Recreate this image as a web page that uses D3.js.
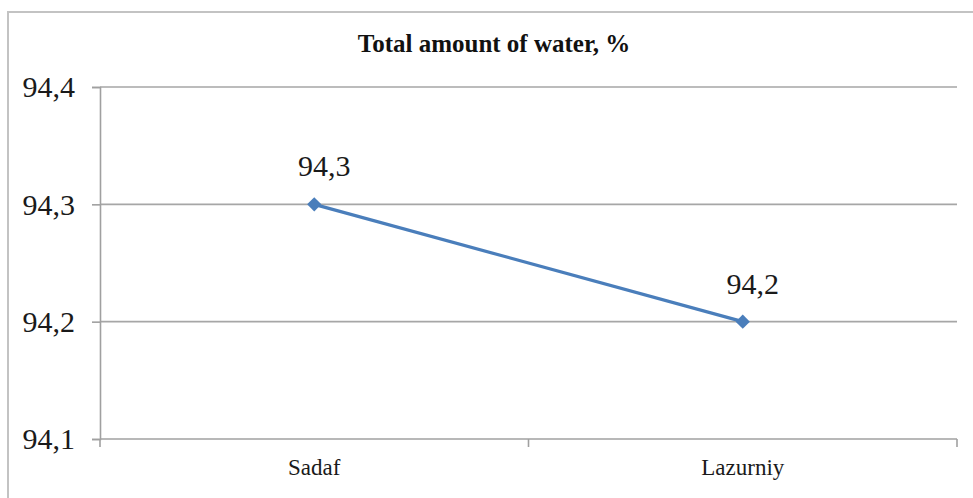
<!DOCTYPE html>
<html>
<head>
<meta charset="utf-8">
<script src="https://cdnjs.cloudflare.com/ajax/libs/d3/7.8.5/d3.min.js"></script>
<style>
  html, body { margin: 0; padding: 0; background: #fff; }
  svg { display: block; }
</style>
</head>
<body>
<svg id="chart" width="973" height="498"></svg>
<script>
const title = "Total amount of water, %";
const categories = ["Sadaf", "Lazurniy"];
const values = [94.3, 94.2];
const yTicks = [94.1, 94.2, 94.3, 94.4];
const yDomain = [94.1, 94.4];

const fmt = v => d3.format(".1f")(v).replace(".", ",");
const svg = d3.select("#chart");
const W = 973, H = 498;
const m = { left: 100, right: 16, top: 87, bottom: 59 };
const serif = "'Liberation Serif', 'Times New Roman', serif";

// outer frame
svg.append("rect").attr("x", 8).attr("y", 12).attr("width", 990).attr("height", 520)
  .attr("fill", "#fff").attr("stroke", "#c3c3c3").attr("stroke-width", 2);

const x = d3.scaleBand().domain(categories).range([m.left, W - m.right]).paddingInner(0).paddingOuter(0);
const y = d3.scaleLinear().domain(yDomain).range([H - m.bottom, m.top]);

// gridlines
svg.append("g").selectAll("line").data(yTicks.slice(1)).join("line")
  .attr("x1", m.left).attr("x2", W - m.right)
  .attr("y1", d => y(d)).attr("y2", d => y(d))
  .attr("stroke", "#a6a6a6").attr("stroke-width", 1.6);

// y axis
const yAxis = svg.append("g").attr("transform", `translate(${m.left},0)`)
  .call(d3.axisLeft(y).tickValues(yTicks).tickFormat(fmt).tickSize(8).tickPadding(17));
yAxis.attr("font-family", serif);
yAxis.select(".domain").attr("stroke", "#a0a0a0").attr("stroke-width", 1.6);
yAxis.selectAll(".tick line").attr("stroke", "#a0a0a0").attr("stroke-width", 1.6);
yAxis.selectAll(".tick text").attr("font-family", serif)
  .attr("font-size", 30).attr("fill", "#1a1a1a").attr("dy", "0.33em");

// x axis
const xAxisG = svg.append("g").attr("transform", `translate(0,${y(yDomain[0])})`);
xAxisG.call(d3.axisBottom(x).tickSize(0).tickPadding(20));
xAxisG.attr("font-family", serif);
xAxisG.select(".domain").remove();
xAxisG.append("line").attr("x1", m.left).attr("x2", W - m.right).attr("y1", 0).attr("y2", 0)
  .attr("stroke", "#a0a0a0").attr("stroke-width", 1.6);
xAxisG.selectAll(".edge").data(d3.range(categories.length + 1)).join("line")
  .attr("class", "edge")
  .attr("x1", i => x.range()[0] + i * x.step()).attr("x2", i => x.range()[0] + i * x.step())
  .attr("y1", 0).attr("y2", 8)
  .attr("stroke", "#a0a0a0").attr("stroke-width", 1.6);
xAxisG.selectAll(".tick text").attr("font-family", serif)
  .attr("font-size", 23).attr("fill", "#1a1a1a").attr("dy", "0.71em");

// line
const cx = d => x(d) + x.bandwidth() / 2;
const pts = categories.map((c, i) => [cx(c), y(values[i])]);
svg.append("path").datum(pts)
  .attr("d", d3.line())
  .attr("fill", "none").attr("stroke", "#4a7ebb").attr("stroke-width", 3.2);

// markers
svg.append("g").selectAll("path").data(pts).join("path")
  .attr("d", d3.symbol(d3.symbolDiamond2, 130))
  .attr("transform", d => `translate(${d[0]},${d[1]})`)
  .attr("fill", "#4a7ebb");

// data labels (slightly right of the marker, as in the source)
svg.append("g").selectAll("text").data(categories).join("text")
  .attr("x", (c) => cx(c) + 10)
  .attr("y", (c, i) => y(values[i]) - 28)
  .attr("text-anchor", "middle")
  .attr("font-family", serif)
  .attr("font-size", 30).attr("fill", "#1a1a1a")
  .text((c, i) => fmt(values[i]));

// title
svg.append("text").attr("x", 494).attr("y", 52).attr("text-anchor", "middle")
  .attr("font-family", serif)
  .attr("font-weight", "bold").attr("font-size", 25).attr("fill", "#111")
  .text(title);
</script>
</body>
</html>
